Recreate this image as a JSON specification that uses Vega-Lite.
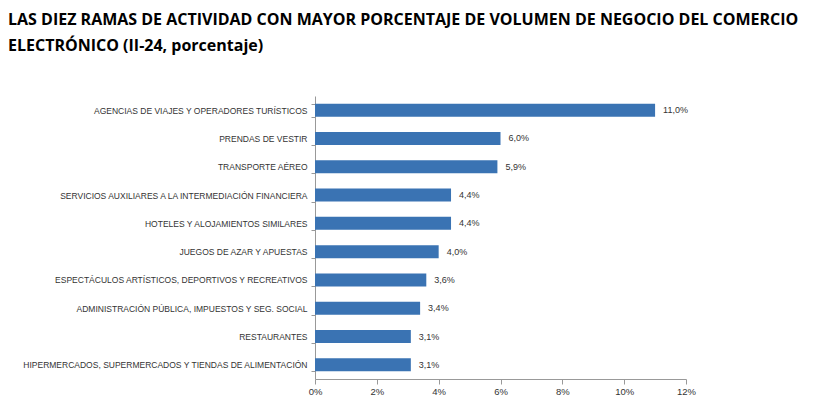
{
  "$schema": "https://vega.github.io/schema/vega-lite/v6.json",
  "width": 371,
  "height": 283,
  "autosize": {"type": "none"},
  "padding": {"left": 315, "top": 96, "right": 136, "bottom": 40},
  "background": "white",
  "title": {
    "text": ["LAS DIEZ RAMAS DE ACTIVIDAD CON MAYOR PORCENTAJE DE VOLUMEN DE NEGOCIO DEL COMERCIO", "ELECTRÓNICO (II-24, porcentaje)"],
    "anchor": "start",
    "frame": "group",
    "dx": -307,
    "offset": 38,
    "font": "Open Sans",
    "fontSize": 16,
    "fontWeight": "bold",
    "lineHeight": 26,
    "color": "#000000"
  },
  "config": {
    "view": {"stroke": null},
    "locale": {"number": {"decimal": ",", "thousands": ".", "grouping": [3], "currency": ["", " €"]}}
  },
  "data": {
    "values": [
      {"rama": "AGENCIAS DE VIAJES Y OPERADORES TURÍSTICOS", "pct": 0.110},
      {"rama": "PRENDAS DE VESTIR", "pct": 0.060},
      {"rama": "TRANSPORTE AÉREO", "pct": 0.059},
      {"rama": "SERVICIOS AUXILIARES A LA INTERMEDIACIÓN FINANCIERA", "pct": 0.044},
      {"rama": "HOTELES  Y ALOJAMIENTOS SIMILARES", "pct": 0.044},
      {"rama": "JUEGOS DE AZAR Y APUESTAS", "pct": 0.040},
      {"rama": "ESPECTÁCULOS ARTÍSTICOS, DEPORTIVOS Y RECREATIVOS", "pct": 0.036},
      {"rama": "ADMINISTRACIÓN PÚBLICA, IMPUESTOS Y SEG. SOCIAL", "pct": 0.034},
      {"rama": "RESTAURANTES", "pct": 0.031},
      {"rama": "HIPERMERCADOS, SUPERMERCADOS Y TIENDAS DE ALIMENTACIÓN", "pct": 0.031}
    ]
  },
  "encoding": {
    "y": {
      "field": "rama",
      "type": "nominal",
      "sort": null,
      "title": null,
      "scale": {"paddingInner": 0.54, "paddingOuter": 0.27},
      "axis": {
        "domainColor": "#999999",
        "tickColor": "#999999",
        "tickSize": 4,
        "tickBand": "extent",
        "labelFont": "Liberation Sans",
        "labelFontSize": 8.5,
        "labelColor": "#333333",
        "labelPadding": 4,
        "labelLimit": 400
      }
    },
    "x": {
      "field": "pct",
      "type": "quantitative",
      "title": null,
      "scale": {"domain": [0, 0.12], "nice": false},
      "axis": {
        "values": [0, 0.02, 0.04, 0.06, 0.08, 0.1, 0.12],
        "format": ".0%",
        "grid": false,
        "labelFlush": false,
        "domainColor": "#999999",
        "tickColor": "#999999",
        "tickSize": 5,
        "labelFont": "Liberation Sans",
        "labelFontSize": 9.5,
        "labelColor": "#333333",
        "labelPadding": 2
      }
    }
  },
  "layer": [
    {"mark": {"type": "bar", "color": "#3a73b3"}},
    {
      "mark": {"type": "text", "align": "left", "dx": 8, "font": "Liberation Sans", "fontSize": 9, "color": "#333333"},
      "encoding": {"text": {"field": "pct", "type": "quantitative", "format": ".1%"}}
    }
  ]
}
